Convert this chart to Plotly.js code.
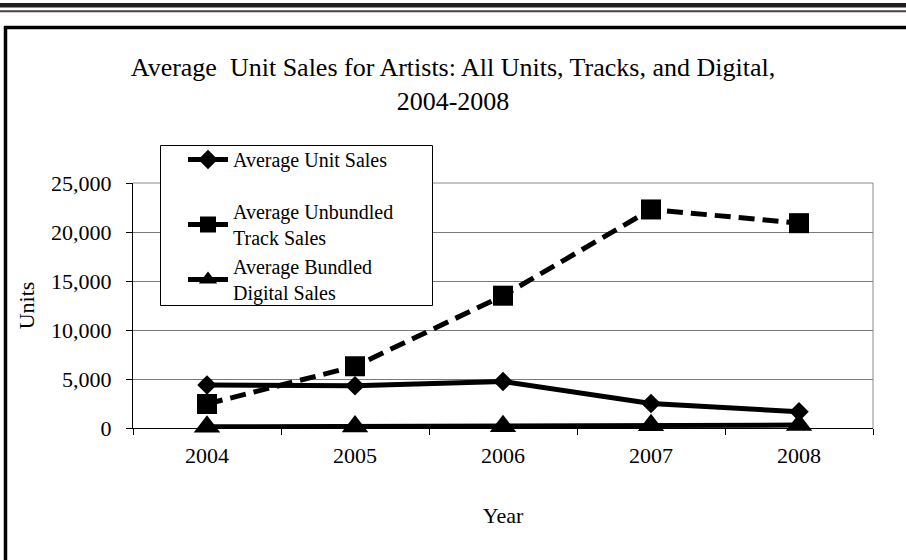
<!DOCTYPE html>
<html>
<head>
<meta charset="utf-8">
<script src="https://cdn.plot.ly/plotly-3.0.1.min.js"></script>
<style>
html,body{margin:0;padding:0;background:#fff;}
#chart{width:906px;height:560px;}
</style>
</head>
<body>
<div id="chart"></div>
<script>
// ---- data ----
const years = ["2004", "2005", "2006", "2007", "2008"];
const unitSales = [4400, 4300, 4750, 2500, 1650];
const unbundledTrackSales = [2450, 6300, 13500, 22300, 20900];
const bundledDigitalSales = [120, 150, 180, 280, 300];
const seriesNames = ["Average Unit Sales", "Average Unbundled<br>Track Sales", "Average Bundled<br>Digital Sales"];
const yTicks = [0, 5000, 10000, 15000, 20000, 25000];

// ---- layout geometry (pixels) ----
const L = 133, R = 33, T = 183, B = 132;
const W = 906 - L - R, H = 560 - T - B;
const px = x => (x - L) / W;
const py = y => (T + H - y) / H;
const FONT = '"Liberation Serif", "Times New Roman", serif';

const traces = [
  {x: years, y: unitSales, name: seriesNames[0], type: 'scatter', mode: 'lines+markers',
   legendgroup: 'g1', cliponaxis: false,
   line: {color: '#000', width: 5}, marker: {symbol: 'diamond', size: 15, color: '#000'}},
  {x: years, y: unbundledTrackSales, name: seriesNames[1], type: 'scatter', mode: 'lines+markers',
   legendgroup: 'g2', cliponaxis: false,
   line: {color: '#000', width: 5, dash: '16px,8px'}, marker: {symbol: 'square', size: 20, color: '#000'}},
  {x: years, y: bundledDigitalSales, name: seriesNames[2], type: 'scatter', mode: 'lines+markers',
   legendgroup: 'g2', cliponaxis: false,
   line: {color: '#000', width: 5}, marker: {symbol: 'triangle-up', size: 23, color: '#000'}}
];

const shapes = [
  // top decorative bars
  {type: 'rect', xref: 'paper', yref: 'paper', x0: px(0), x1: px(906), y0: py(3), y1: py(7.5),
   fillcolor: '#231f20', line: {width: 0}, layer: 'below'},
  {type: 'line', xref: 'paper', yref: 'paper', x0: px(0), x1: px(906), y0: py(11.3), y1: py(11.3),
   line: {color: '#444', width: 2}, layer: 'below'},
  // outer chart box
  {type: 'line', xref: 'paper', yref: 'paper', x0: px(4), x1: px(910), y0: py(27.5), y1: py(27.5),
   line: {color: '#000', width: 3.5}, layer: 'below'},
  {type: 'line', xref: 'paper', yref: 'paper', x0: px(5.5), x1: px(5.5), y0: py(26), y1: py(565),
   line: {color: '#000', width: 3.5}, layer: 'below'},
  // plot area border top/right (gray)
  {type: 'line', xref: 'paper', yref: 'paper', x0: 0, x1: 1, y0: 1, y1: 1,
   line: {color: '#8a8a8a', width: 1}, layer: 'below'},
  {type: 'line', xref: 'paper', yref: 'paper', x0: 1, x1: 1, y0: 0, y1: 1,
   line: {color: '#8a8a8a', width: 1}, layer: 'below'},
  // legend box
  {type: 'rect', xref: 'paper', yref: 'paper', x0: px(160.5), x1: px(432.5), y0: py(145.5), y1: py(305.5),
   fillcolor: '#fff', line: {color: '#000', width: 1}, layer: 'above'}
];

const layout = {
  width: 906, height: 560,
  margin: {l: L, r: R, t: T, b: B},
  paper_bgcolor: '#fff', plot_bgcolor: '#fff',
  font: {family: FONT, color: '#000', size: 21},
  title: {
    text: 'Average\u00a0 Unit Sales for Artists: All Units, Tracks, and Digital,<br>2004-2008',
    font: {family: FONT, size: 26, color: '#000'},
    x: 0.5, xref: 'container', xanchor: 'center',
    y: 1 - 76 / 560, yref: 'container', yanchor: 'top'
  },
  xaxis: {
    type: 'category',
    categoryorder: 'array', categoryarray: years,
    range: [-0.5, years.length - 0.5],
    showline: true, linecolor: '#000', linewidth: 1,
    ticks: 'outside', ticklen: 6, tickcolor: '#000', tickwidth: 1,
    tickson: 'boundaries',
    showgrid: false, zeroline: false,
    ticklabelstandoff: 8,
    tickfont: {family: FONT, size: 22, color: '#000'},
    title: {text: 'Year', font: {family: FONT, size: 22, color: '#000'}, standoff: 40}
  },
  yaxis: {
    range: [0, 25000],
    tickvals: yTicks, tickformat: ',d',
    showline: true, linecolor: '#000', linewidth: 1,
    ticks: 'outside', ticklen: 6, tickcolor: '#000', tickwidth: 1,
    showgrid: true, gridcolor: '#7a7a7a', gridwidth: 1,
    zeroline: false,
    ticklabelstandoff: 10,
    tickfont: {family: FONT, size: 22, color: '#000'},
    title: {text: 'Units', font: {family: FONT, size: 22, color: '#000'}, standoff: 10}
  },
  showlegend: true,
  legend: {
    x: px(183), y: py(140), xanchor: 'left', yanchor: 'top',
    bgcolor: 'rgba(0,0,0,0)', borderwidth: 0,
    font: {family: FONT, size: 20, color: '#000'},
    itemwidth: 40,
    tracegroupgap: 23
  },
  shapes: shapes
};

Plotly.newPlot('chart', traces, layout, {displayModeBar: false, staticPlot: true});
</script>
</body>
</html>
